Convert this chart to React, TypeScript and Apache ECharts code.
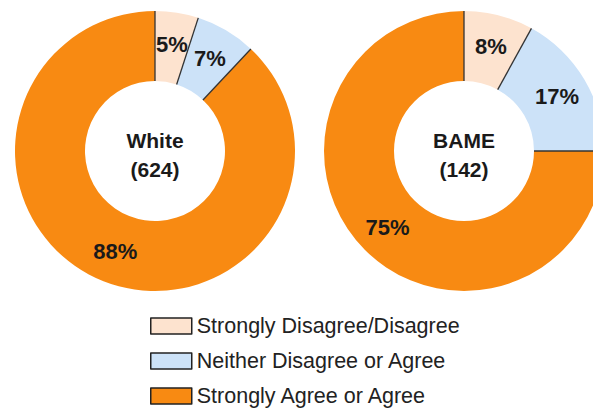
import React, { useEffect, useRef } from "react";
import * as echarts from "echarts";

const categories = [
  "Strongly Disagree/Disagree",
  "Neither Disagree or Agree",
  "Strongly Agree or Agree",
];
const groupNames = ["White", "BAME"];
const groupCounts = [624, 142];
const whiteValues = [5, 7, 88];
const bameValues = [8, 17, 75];

const colors = ["#FDE3CF", "#CCE2F8", "#F88A12"];
const FONT = "'Liberation Sans', Arial, sans-serif";

const centers: [number, number][] = [
  [155, 151],
  [464, 151],
];
const R_IN = 70;
const R_OUT = 140;

function separators(values: number[], cx: number, cy: number) {
  const total = values.reduce((a, b) => a + b, 0);
  const lines: any[] = [];
  let acc = 0;
  for (let i = 0; i < values.length; i++) {
    const ang = (acc / total) * Math.PI * 2;
    const sx = Math.sin(ang);
    const sy = -Math.cos(ang);
    lines.push({
      type: "line",
      z: 100,
      shape: {
        x1: cx + sx * R_IN,
        y1: cy + sy * R_IN,
        x2: cx + sx * R_OUT,
        y2: cy + sy * R_OUT,
      },
      style: { stroke: "#333333", lineWidth: 1.3 },
    });
    acc += values[i];
  }
  return lines;
}

export default function App() {
  const ref = useRef<HTMLDivElement>(null);
  useEffect(() => {
    document.body.style.margin = "0";
    if (!ref.current) return;
    const chart = echarts.init(ref.current, null, { renderer: "svg" });
    const allValues = [whiteValues, bameValues];
    const series = allValues.map((vals, gi) => ({
      type: "pie",
      name: groupNames[gi],
      center: centers[gi],
      radius: [R_IN, R_OUT],
      startAngle: 90,
      clockwise: true,
      silent: true,
      itemStyle: { borderWidth: 0 },
      label: {
        show: true,
        position: "inside",
        formatter: "{c}%",
        fontFamily: FONT,
        fontWeight: "bold",
        fontSize: 22,
        color: "#1a1a1a",
      },
      labelLine: { show: false },
      data: categories.map((c, i) => ({
        name: c,
        value: vals[i],
        itemStyle: { color: colors[i] },
      })),
    }));
    const graphics: any[] = [];
    allValues.forEach((vals, gi) => {
      graphics.push(...separators(vals, centers[gi][0], centers[gi][1]));
      graphics.push({
        type: "text",
        x: centers[gi][0],
        y: centers[gi][1] + 4,
        z: 100,
        style: {
          text: `${groupNames[gi]}\n(${groupCounts[gi]})`,
          fill: "#1a1a1a",
          font: `bold 21px ${FONT}`,
          lineHeight: 29,
          align: "center",
          verticalAlign: "middle",
        },
      });
    });
    chart.setOption({
      animation: false,
      backgroundColor: "#ffffff",
      color: colors,
      legend: {
        orient: "vertical",
        left: 150,
        top: 315,
        height: 120,
        padding: 0,
        itemWidth: 41,
        itemHeight: 16,
        itemGap: 13,
        icon: "rect",
        selectedMode: false,
        itemStyle: { borderColor: "#222222", borderWidth: 1.5 },
        textStyle: {
          fontFamily: FONT,
          fontSize: 21.5,
          lineHeight: 22,
          color: "#222222",
        },
        data: categories,
      },
      series,
      graphic: graphics,
    });
    return () => chart.dispose();
  }, []);
  return <div ref={ref} style={{ width: 593, height: 408 }} />;
}
